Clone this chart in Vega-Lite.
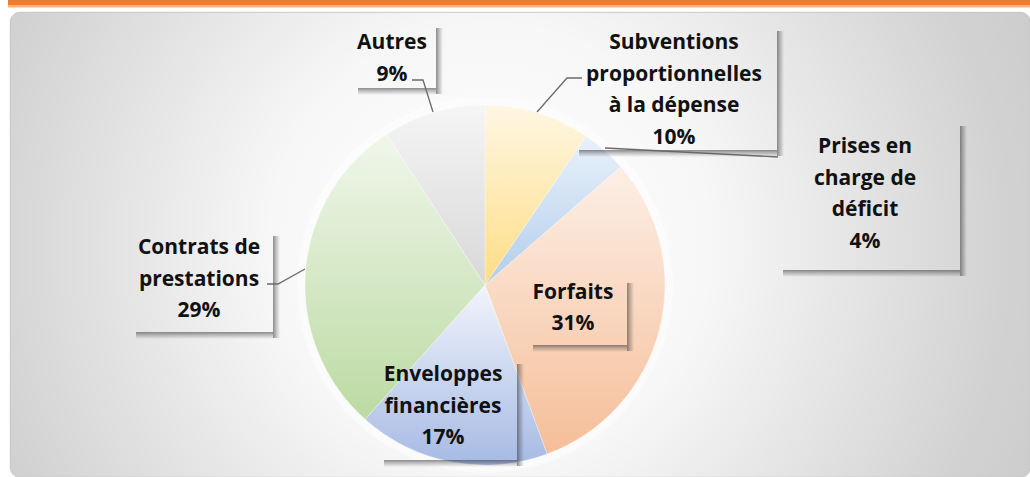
{
  "$schema": "https://vega.github.io/schema/vega-lite/v6.json",
  "width": 1020,
  "height": 465,
  "autosize": {"type": "none"},
  "padding": {"left": 10, "top": 12, "right": 0, "bottom": 0},
  "background": "#ffffff",
  "config": {
    "view": {
      "stroke": "#bdbdbd",
      "strokeWidth": 0.8,
      "cornerRadius": 10,
      "fill": {
        "gradient": "radial",
        "x1": 0.47, "y1": 0.5, "r1": 0,
        "x2": 0.47, "y2": 0.5, "r2": 0.72,
        "stops": [
          {"offset": 0, "color": "#ffffff"},
          {"offset": 0.3, "color": "#f7f7f7"},
          {"offset": 0.7, "color": "#d2d2d2"},
          {"offset": 1, "color": "#c2c2c2"}
        ]
      }
    },
    "text": {"font": "Open Sans"}
  },
  "datasets": {
    "slices": [
      {"cat": "Subventions proportionnelles à la dépense", "k": 1, "value": 9.5},
      {"cat": "Prises en charge de déficit", "k": 2, "value": 4.1},
      {"cat": "Forfaits", "k": 3, "value": 30.8},
      {"cat": "Enveloppes financières", "k": 4, "value": 17.2},
      {"cat": "Contrats de prestations", "k": 5, "value": 29.2},
      {"cat": "Autres", "k": 6, "value": 9.2}
    ],
    "labels": [
      {"cat": "Autres", "text": "Autres\n9%", "lx": -93, "ly": 242, "bx1": -133, "bx2": -49, "by1": 263, "by2": 197},
      {"cat": "Subventions", "text": "Subventions\nproportionnelles\nà la dépense\n10%", "lx": 189, "ly": 242, "bx1": 88, "bx2": 292, "by1": 260, "by2": 135},
      {"cat": "Prises", "text": "Prises en\ncharge de\ndéficit\n4%", "lx": 380, "ly": 138, "bx1": 292, "bx2": 475, "by1": 165, "by2": 15},
      {"cat": "Forfaits", "text": "Forfaits\n31%", "lx": 88, "ly": -7.5, "bx1": 42, "bx2": 142, "by1": 8, "by2": -60},
      {"cat": "Enveloppes", "text": "Enveloppes\nfinancières\n17%", "lx": -42, "ly": -90, "bx1": -107, "bx2": 32, "by1": -73, "by2": -175},
      {"cat": "Contrats", "text": "Contrats de\nprestations\n29%", "lx": -286, "ly": 37, "bx1": -355, "bx2": -212, "by1": 55, "by2": -47}
    ],
    "leaders": [
      {"id": "Autres", "i": 1, "x": -73, "y": 205},
      {"id": "Autres", "i": 2, "x": -62, "y": 205},
      {"id": "Autres", "i": 3, "x": -52, "y": 173},
      {"id": "Subventions", "i": 1, "x": 52, "y": 173},
      {"id": "Subventions", "i": 2, "x": 82, "y": 207},
      {"id": "Subventions", "i": 3, "x": 97, "y": 207},
      {"id": "Prises", "i": 1, "x": 120, "y": 137},
      {"id": "Prises", "i": 2, "x": 293, "y": 128},
      {"id": "Contrats", "i": 1, "x": -218, "y": 1},
      {"id": "Contrats", "i": 2, "x": -207, "y": 1},
      {"id": "Contrats", "i": 3, "x": -180, "y": 16}
    ]
  },
  "layer": [
    {
      "data": {"values": [{}]},
      "mark": {"type": "rect", "color": "#ed7d31"},
      "encoding": {
        "x": {"datum": -477, "type": "quantitative", "scale": {"domain": [-475, 545], "nice": false, "zero": false}, "axis": null},
        "x2": {"datum": 545},
        "y": {"datum": 285, "type": "quantitative", "scale": {"domain": [-192, 273], "nice": false, "zero": false}, "axis": null},
        "y2": {"datum": 279.5}
      }
    },
    {
      "data": {"values": [{}]},
      "mark": {"type": "rect", "color": "#f4b183"},
      "encoding": {
        "x": {"datum": -477, "type": "quantitative"},
        "x2": {"datum": 545},
        "y": {"datum": 279.5, "type": "quantitative"},
        "y2": {"datum": 277.5}
      }
    },
    {
      "data": {"values": [{}]},
      "mark": {"type": "arc", "outerRadius": 188, "theta": 0, "theta2": 6.2832, "color": "#ffffff", "opacity": 0.45},
      "encoding": {
        "x": {"datum": 0, "type": "quantitative"},
        "y": {"datum": 0, "type": "quantitative"}
      }
    },
    {
      "data": {"name": "slices"},
      "mark": {"type": "arc", "outerRadius": 180, "stroke": "#ffffff", "strokeWidth": 0.6, "strokeOpacity": 0.5},
      "encoding": {
        "x": {"datum": 0, "type": "quantitative"},
        "y": {"datum": 0, "type": "quantitative"},
        "theta": {"field": "value", "type": "quantitative", "stack": true},
        "order": {"field": "k", "type": "quantitative"},
        "color": {
          "condition": [
            {"test": "datum.k == 1", "value": {"gradient": "linear", "x1": 0, "y1": 0, "x2": 0, "y2": 1, "stops": [{"offset": 0, "color": "#fff7e4"}, {"offset": 1, "color": "#ffdd84"}]}},
            {"test": "datum.k == 2", "value": {"gradient": "linear", "x1": 0, "y1": 0, "x2": 0, "y2": 1, "stops": [{"offset": 0, "color": "#e9f1fa"}, {"offset": 1, "color": "#b2cdeb"}]}},
            {"test": "datum.k == 3", "value": {"gradient": "linear", "x1": 0, "y1": 0, "x2": 0, "y2": 1, "stops": [{"offset": 0, "color": "#fdefe6"}, {"offset": 1, "color": "#f5be98"}]}},
            {"test": "datum.k == 4", "value": {"gradient": "linear", "x1": 0, "y1": 0, "x2": 0, "y2": 1, "stops": [{"offset": 0, "color": "#f1f4fb"}, {"offset": 1, "color": "#a6bae4"}]}},
            {"test": "datum.k == 5", "value": {"gradient": "linear", "x1": 0, "y1": 0, "x2": 0, "y2": 1, "stops": [{"offset": 0, "color": "#f0f7eb"}, {"offset": 1, "color": "#bcdaa2"}]}}
          ],
          "value": {"gradient": "linear", "x1": 0, "y1": 0, "x2": 0, "y2": 1, "stops": [{"offset": 0, "color": "#f5f5f5"}, {"offset": 1, "color": "#d8d8d8"}]}
        }
      }
    },
    {
      "data": {"name": "labels"},
      "mark": {
        "type": "rect", "x2Offset": 7, "yOffset": 6, "y2Offset": 6,
        "color": {"gradient": "linear", "x1": 0, "y1": 0, "x2": 1, "y2": 0, "stops": [{"offset": 0, "color": "rgba(50,50,50,0.55)"}, {"offset": 0.4, "color": "rgba(50,50,50,0.3)"}, {"offset": 1, "color": "rgba(50,50,50,0)"}]}
      },
      "encoding": {
        "x": {"field": "bx2", "type": "quantitative"},
        "x2": {"field": "bx2"},
        "y": {"field": "by1", "type": "quantitative"},
        "y2": {"field": "by2"}
      }
    },
    {
      "data": {"name": "labels"},
      "mark": {
        "type": "rect", "xOffset": 6, "x2Offset": 0, "y2Offset": 7,
        "color": {"gradient": "linear", "x1": 0, "y1": 0, "x2": 0, "y2": 1, "stops": [{"offset": 0, "color": "rgba(50,50,50,0.55)"}, {"offset": 0.4, "color": "rgba(50,50,50,0.3)"}, {"offset": 1, "color": "rgba(50,50,50,0)"}]}
      },
      "encoding": {
        "x": {"field": "bx1", "type": "quantitative"},
        "x2": {"field": "bx2"},
        "y": {"field": "by2", "type": "quantitative"},
        "y2": {"field": "by2"}
      }
    },
    {
      "data": {"name": "leaders"},
      "mark": {"type": "line", "color": "#6a6a6a", "strokeWidth": 1.3},
      "encoding": {
        "x": {"field": "x", "type": "quantitative"},
        "y": {"field": "y", "type": "quantitative"},
        "detail": {"field": "id"},
        "order": {"field": "i", "type": "quantitative"}
      }
    },
    {
      "data": {"name": "labels"},
      "mark": {"type": "text", "lineBreak": "\n", "lineHeight": 31.5, "fontSize": 21, "fontWeight": "bold", "color": "#111111", "align": "center", "baseline": "middle"},
      "encoding": {
        "x": {"field": "lx", "type": "quantitative"},
        "y": {"field": "ly", "type": "quantitative"},
        "text": {"field": "text"}
      }
    }
  ]
}
